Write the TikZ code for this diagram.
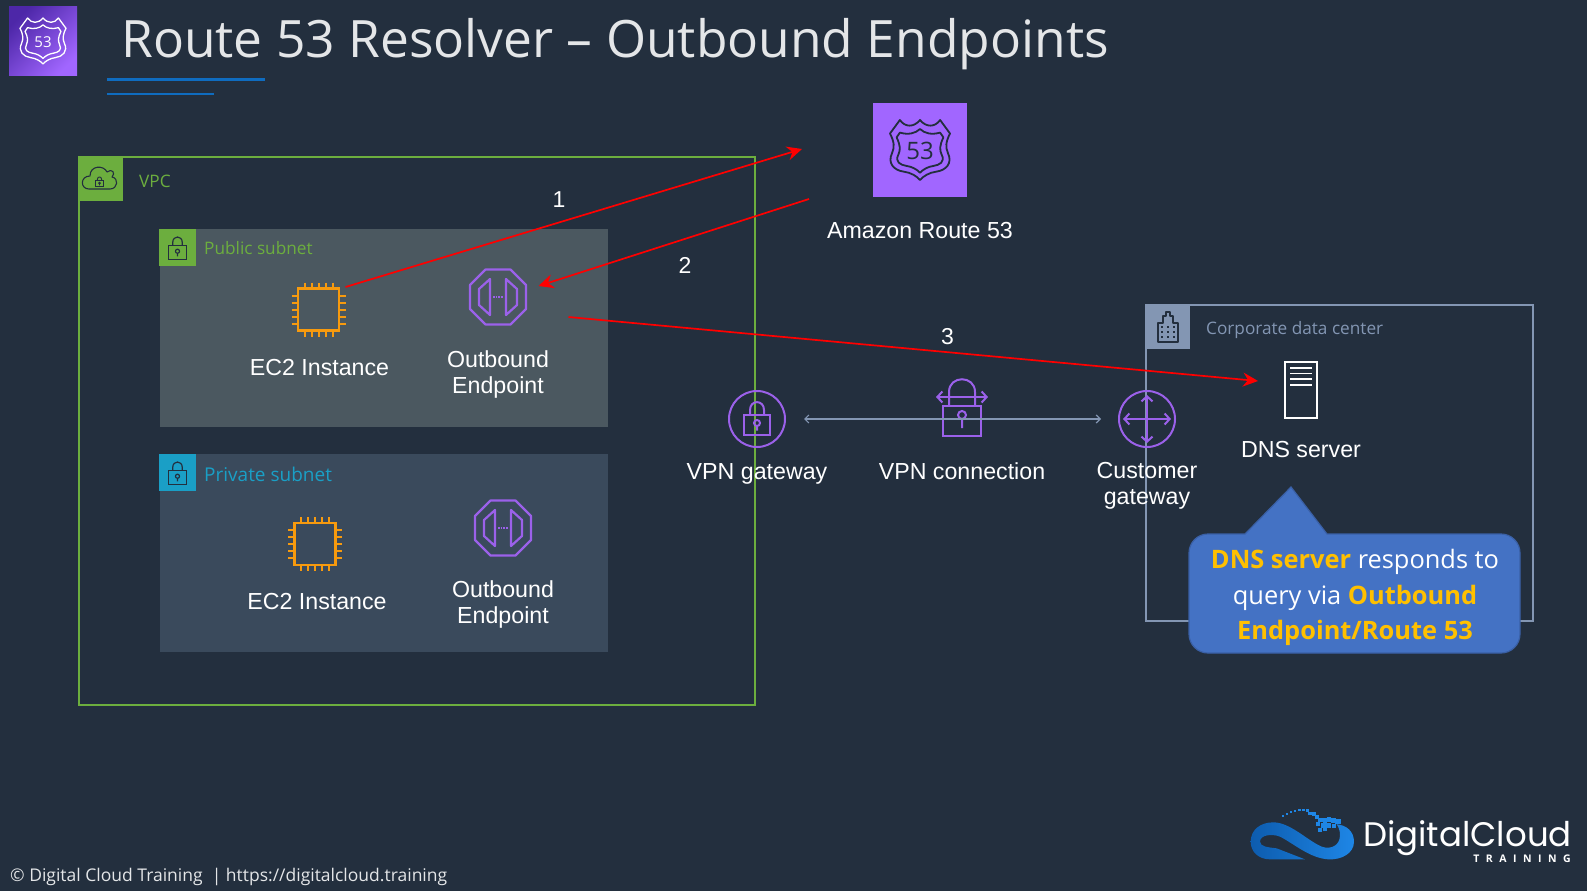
\documentclass[tikz,border=0pt]{standalone}
\usepackage{fontspec}
\usepackage{xcolor}
\setmainfont{Open Sans}
\newfontfamily\arialfont{Liberation Sans}
\newfontfamily\logofont{Poppins}
\newfontfamily\trainfont[LetterSpace=62]{Open Sans}
\usetikzlibrary{arrows.meta, positioning, calc}
\definecolor{slidebg}{HTML}{232F3E}
\definecolor{titlegrey}{HTML}{E4E6E8}
\definecolor{rulesblue}{HTML}{0F6CBF}
\definecolor{vpcgreen}{HTML}{6CAE3E}
\definecolor{pubfill}{HTML}{4B5860}
\definecolor{prifill}{HTML}{3A4A5C}
\definecolor{pricyan}{HTML}{1A9FC6}
\definecolor{corpblue}{HTML}{8396B3}
\definecolor{chiporange}{HTML}{F79A0E}
\definecolor{awspurple}{HTML}{9B61EA}
\definecolor{r53light}{HTML}{A166FF}
\definecolor{r53dark}{HTML}{4D27A8}
\definecolor{notefill}{HTML}{4472C4}
\definecolor{noteline}{HTML}{3A60A6}
\definecolor{noteyellow}{HTML}{FFC000}
\definecolor{logodark}{HTML}{0D5CAE}
\definecolor{logolight}{HTML}{1E86E6}
\tikzset{
    iconbox/.style={
        inner sep=0pt,
        outer sep=0pt,
    },
    tagbox/.style={
        inner sep=0pt,
        outer sep=0pt,
        anchor=north west,
    },
    groupbox/.style={
        draw,
        line width=1.4pt,
        inner sep=0pt,
        outer sep=0pt,
        anchor=north west,
    },
    subnetbox/.style={
        inner sep=0pt,
        outer sep=0pt,
        anchor=north west,
        minimum width=448pt,
        minimum height=198pt,
    },
    iconlabel/.style={
        font=\arialfont\fontsize{23.2}{26}\selectfont,
        text=white,
        align=center,
        inner sep=0pt,
    },
    taglabel/.style={
        font=\fontsize{17.2}{21}\selectfont,
        inner sep=0pt,
    },
    stepnum/.style={
        font=\arialfont\fontsize{23}{26}\selectfont,
        text=white,
        inner sep=0pt,
    },
    redarrow/.style={
        red,
        line width=1.7pt,
        -{Stealth[length=15pt,width=14pt,inset=5pt]},
    },
    vpnlink/.style={
        corpblue,
        line width=1.2pt,
        {Straight Barb[length=4pt,width=8pt]}-{Straight Barb[length=4pt,width=8pt]},
    },
    padlock/.pic={
        \draw[line join=round]
            (-7,-4) -- (-7,-9) .. controls (-7,-19.5) and (7,-19.5) .. (7,-9) -- (7,-4);
        \draw (-13,-4) rectangle (13,16);
        \draw (0,4) circle (3) (0,7) -- (0,11.5);
    },
    chip/.pic={
        \draw[chiporange, line width=2.2pt] (-20.5,-21) rectangle (20.5,21);
        \foreach \pin in {-14,-7,0,7,14} {
            \draw[chiporange, line width=2pt] (\pin,-27) -- (\pin,-21) (\pin,21) -- (\pin,27);
            \draw[chiporange, line width=2pt] (-27,\pin) -- (-20.5,\pin) (20.5,\pin) -- (27,\pin);
        }
    },
    doorway/.pic={
        \draw[awspurple, line width=2.2pt, line join=round]
            (-12.5,-27.5) -- (12.5,-27.5) -- (28,-12) -- (28,12) -- (12.5,27.5)
            -- (-12.5,27.5) -- (-28,12) -- (-28,-12) -- cycle;
        \draw[awspurple, line width=2.2pt, line join=round]
            (-8,-18) -- (-19,-8) -- (-19,8) -- (-8,18) -- cycle
            (8,-18) -- (19,-8) -- (19,8) -- (8,18) -- cycle;
        \draw[awspurple, line width=1.4pt, dash pattern=on 1.5pt off 1.2pt] (-5,0) -- (5,0);
    },
    shield/.pic={
        \draw[line join=round]
            (-.67,-1) .. controls (-.5,-.75) and (-.2,-.75) .. (0,-1)
            .. controls (.2,-.75) and (.5,-.75) .. (.67,-1) -- (1,-.55)
            .. controls (.85,-.25) and (.85,-.1) .. (.93,.1)
            .. controls (1.1,.45) and (.85,.68) .. (.55,.72)
            .. controls (.3,.75) and (.1,.88) .. (0,1)
            .. controls (-.1,.88) and (-.3,.75) .. (-.55,.72)
            .. controls (-.85,.68) and (-1.1,.45) .. (-.93,.1)
            .. controls (-.85,-.1) and (-.85,-.25) .. (-1,-.55) -- cycle;
        \draw[line join=round]
            (-.67,-.58) .. controls (-.4,-.5) and (-.15,-.55) .. (0,-.7)
            .. controls (.15,-.55) and (.4,-.5) .. (.67,-.58) -- (.78,-.42)
            .. controls (.65,-.15) and (.65,0) .. (.72,.15)
            .. controls (.85,.4) and (.65,.5) .. (.45,.53)
            .. controls (.25,.56) and (.1,.65) .. (0,.76)
            .. controls (-.1,.65) and (-.25,.56) .. (-.45,.53)
            .. controls (-.65,.5) and (-.85,.4) .. (-.72,.15)
            .. controls (-.65,0) and (-.65,-.15) .. (-.78,-.42) -- cycle;
    },
}

\begin{document}
\begin{tikzpicture}[x=1pt,y=-1pt]
      \useasboundingbox (0,0) rectangle (1587,891);
      \fill[slidebg] (0,0) rectangle (1587,891);

      \node [iconbox, minimum size=68pt, left color=r53dark, right color=r53light, shading angle=45] (r53corner) at (43,41) {};
      \pic [white, line width=1.3pt, scale=23] at (r53corner) {shield};
      \node [iconbox, text=white, font=\fontsize{15}{15}\selectfont] (r53cornernum) at (43,42) {53};

      \node [inner sep=0pt, anchor=west, text=titlegrey, font=\fontsize{51.5}{60}\selectfont] (title) at (121,44) {Route 53 Resolver -- Outbound Endpoints};
      \fill[rulesblue] (107,77.5) rectangle (265,81);
      \fill[rulesblue] (107,92.5) rectangle (214,95);

      \node [groupbox, vpcgreen, minimum width=676pt, minimum height=548pt] (vpc) at (79,157) {};
      \node [tagbox, fill=vpcgreen, minimum size=44pt] (vpctag) at (vpc.north west) {};
      \node [taglabel, text=vpcgreen, right=16pt of vpctag, yshift=-2pt] (vpclabel) {VPC};
      \draw[slidebg, line width=1.1pt, line join=round] (89,189) .. controls (80,189) and (80,176) .. (90,176)
          .. controls (90,165) and (104,165) .. (107,172) .. controls (112,168) and (116,173) .. (112,177)
          .. controls (119,178) and (118,189) .. (110,189) -- cycle;
      \pic [slidebg, line width=.9pt, scale=.3] at (99.5,182) {padlock};

      \node [subnetbox, fill=pubfill] (pub) at (160,229) {};
      \node [tagbox, fill=vpcgreen, minimum size=37pt] (pubtag) at (159,229) {};
      \node [taglabel, text=vpcgreen, right=8pt of pubtag, yshift=-1pt] (publabel) {Public subnet};
      \pic [slidebg, line width=1.2pt, scale=.68] at (177.5,248.5) {padlock};

      \node [subnetbox, fill=prifill] (pri) at (160,454) {};
      \node [tagbox, fill=pricyan, minimum size=37pt] (pritag) at (159,454) {};
      \node [taglabel, text=pricyan, right=8pt of pritag, yshift=-1.5pt, font=\fontsize{19}{22}\selectfont] (prilabel) {Private subnet};
      \pic [slidebg, line width=1.2pt, scale=.68] at (177.5,473.5) {padlock};

      \node [iconbox, minimum width=54pt, minimum height=45pt] (ec2pub) at (318.5,309.5) {};
      \pic at (ec2pub) {chip};
      \node [iconlabel, below=26pt of ec2pub, xshift=1pt, text height=17pt, text depth=5pt] (ec2publabel) {EC2 Instance};
      \node [iconbox, minimum width=57pt, minimum height=55pt] (epub) at (498,297) {};
      \pic at (epub) {doorway};
      \node [iconlabel, below=26pt of epub] (epublabel) {Outbound\\Endpoint};

      \node [iconbox, minimum width=54pt, minimum height=45pt] (ec2pri) at (315,544) {};
      \pic at (ec2pri) {chip};
      \node [iconlabel, below=26pt of ec2pri, xshift=2pt, text height=17pt, text depth=5pt] (ec2prilabel) {EC2 Instance};
      \node [iconbox, minimum width=57pt, minimum height=55pt] (epri) at (503,528) {};
      \pic at (epri) {doorway};
      \node [iconlabel, below=25pt of epri] (eprilabel) {Outbound\\Endpoint};

      \node [iconbox, fill=r53light, minimum size=94pt] (r53) at (920,150) {};
      \pic [slidebg, line width=1.8pt, scale=30] at (r53) {shield};
      \node [iconbox, text=slidebg, font=\fontsize{24}{24}\selectfont] (r53num) at (920,151) {53};
      \node [iconlabel, below=25pt of r53] (r53label) {Amazon Route 53};

      \node [groupbox, corpblue, minimum width=387pt, minimum height=316pt] (corp) at (1146,305) {};
      \node [tagbox, fill=corpblue, minimum size=44pt] (corptag) at (corp.north west) {};
      \node [taglabel, text=corpblue, right=16pt of corptag, yshift=-3.5pt] (corplabel) {Corporate data center};
      \draw[slidebg, line width=1.2pt, line join=round] (1158,342) -- (1158,323) -- (1163,323) -- (1163,316) -- (1166,316)
          -- (1166,312) -- (1170,312) -- (1170,316) -- (1173,316) -- (1173,323) -- (1178,323) -- (1178,342) -- cycle;
      \foreach \wx in {1162,1168,1174}
        \foreach \wy in {327,332,337}
          \fill[slidebg] (\wx-1,\wy-1) rectangle (\wx+1,\wy+1);

      \node [iconbox, draw=awspurple, line width=2pt, circle, minimum size=56pt] (vpngw) at (757,419) {};
      \pic [awspurple, line width=2pt] at (vpngw) {padlock};
      \node [iconlabel, below=16pt of vpngw] (vpngwlabel) {VPN gateway};

      \node [iconbox, minimum width=51pt, minimum height=56pt] (vpncon) at (962,408) {};
      \draw[awspurple, line width=2pt, {Straight Barb[length=5pt,width=11pt]}-{Straight Barb[length=5pt,width=11pt]}] (936,397) -- (988,397);
      \draw[awspurple, line width=2pt] (949,406) -- (949,392) .. controls (949,375) and (975,375) .. (975,392) -- (975,406);
      \draw[awspurple, line width=2pt] (943,406) rectangle (981,436);
      \draw[awspurple, line width=2pt] (962,415) circle (4) (962,419) -- (962,428);
      \node [iconlabel, below=26pt of vpncon] (vpnconlabel) {VPN connection};

      \node [iconbox, draw=awspurple, line width=2pt, circle, minimum size=56pt] (cgw) at (1147,419) {};
      \draw[awspurple, line width=2pt, {Straight Barb[length=5pt,width=11pt]}-{Straight Barb[length=5pt,width=11pt]}] (1123,419) -- (1171,419);
      \draw[awspurple, line width=2pt, {Straight Barb[length=5pt,width=11pt]}-{Straight Barb[length=5pt,width=11pt]}] (1147,395) -- (1147,443);
      \node [iconlabel, below=15pt of cgw] (cgwlabel) {Customer\\gateway};

      \node [iconbox, draw=white, line width=1.6pt, minimum width=32pt, minimum height=56pt] (dns) at (1301,390) {};
      \foreach \ly in {-22,-16.5,-11,-5}
        \draw[white, line width=1.8pt] ($(dns)+(-11,\ly)$) -- ($(dns)+(11,\ly)$);
      \node [iconlabel, below=23pt of dns] (dnslabel) {DNS server};

      \coordinate (r53in) at ($(r53.west)+(-71,-1)$);
      \coordinate (r53out) at ($(r53.south west)+(-64,2)$);
      \coordinate (epubin) at ($(epub.east)+(12,-11)$);
      \coordinate (epubout) at ($(epub.east)+(42,20)$);
      \coordinate (dnsin) at ($(dns.west)+(-27,-9)$);

      \draw[vpnlink, shorten <=19pt, shorten >=18pt] (vpngw) -- (cgw);
      \draw[redarrow] (ec2pub.north east) -- (r53in);
      \draw[redarrow] (r53out) -- (epubin);
      \draw[redarrow] (epubout) -- (dnsin);

      \node [stepnum] (step1) at (559,199.5) {1};
      \node [stepnum] (step2) at (685,265) {2};
      \node [stepnum] (step3) at (947.5,336.5) {3};

      \draw[fill=notefill, draw=noteline, line width=1.2pt] (1291,487) -- (1327,534) -- (1501,534)
          .. controls (1511.5,534) and (1520,542.5) .. (1520,553) -- (1520,634)
          .. controls (1520,644.5) and (1511.5,653) .. (1501,653) -- (1208,653)
          .. controls (1197.5,653) and (1189,644.5) .. (1189,634) -- (1189,553)
          .. controls (1189,542.5) and (1197.5,534) .. (1208,534) -- (1245,534) -- cycle;
      \node [inner sep=0pt, align=center, text=white, font=\fontsize{25.4}{35.8}\selectfont] (note) at (1355,597.5)
          {\textcolor{noteyellow}{\textbf{DNS server}} responds to\\query via \textcolor{noteyellow}{\textbf{Outbound}}\\\textcolor{noteyellow}{\textbf{Endpoint/Route 53}}};

      \node [inner sep=0pt, anchor=west, text=titlegrey, font=\fontsize{17.5}{20}\selectfont] (footer) at (10,877)
          {© Digital Cloud Training\ \ | https://digitalcloud.training};

      \begin{scope}[shift={(1230,790)},x=.3333pt,y=-.3333pt]
        \shade[left color=logodark, right color=logolight] (225,208) -- (120,208) .. controls (85,208) and (62,185) .. (62,155)
            .. controls (62,120) and (90,97) .. (130,97) .. controls (180,97) and (230,150) .. (275,170)
            .. controls (305,180) and (330,165) .. (330,135) .. controls (330,120) and (325,110) .. (320,103)
            .. controls (350,105) and (372,125) .. (372,155) .. controls (372,190) and (335,210) .. (295,208)
            .. controls (240,205) and (190,160) .. (150,140) .. controls (125,130) and (90,135) .. (90,155)
            .. controls (90,170) and (115,172) .. (140,175) -- cycle;
        \foreach \px/\py/\ps in {160/78/3,172/72/3,184/67/3,196/63/3,208/60/4,220/60/4,232/62/4,240/70/5,252/72/5,262/82/6,272/90/7,285/92/7,297/88/7,310/92/7,324/95/8,265/102/6,280/106/7,295/106/7,312/108/7,270/120/5,285/118/5}
          \fill[logolight] (\px-\ps,\py-\ps) rectangle (\px+\ps,\py+\ps);
      \end{scope}
      \node [inner sep=0pt, anchor=east, text=white, font=\logofont\fontsize{34}{40}\selectfont] (logotext) at (1572,838) {DigitalCloud};
      \node [inner sep=0pt, anchor=east, text=white, font=\trainfont\bfseries\fontsize{10.5}{12}\selectfont] (logosub) at (1571,859) {TRAINING};
\end{tikzpicture}
\end{document}
